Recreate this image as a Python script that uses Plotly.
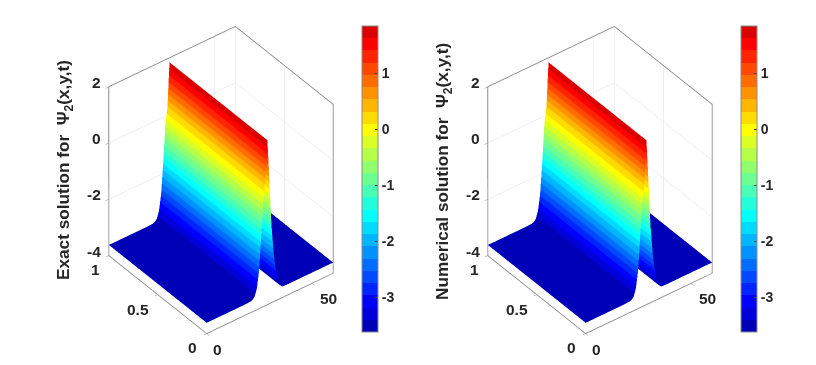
"""Exact vs numerical Psi_2 surfaces, two panels side by side."""

import plotly.graph_objects as go

X_GRID = [0, 10, 18, 20.8, 21.8, 22.8, 23.8, 24.8, 25.8, 26.8, 27.8, 28.3, 28.8,
          29.3, 29.8, 30.8, 31.8, 32.8, 33.8, 34.8, 35.8, 38, 45, 60]
Y_GRID = [0, 1]
EXACT_PROFILE = [-3.62, -3.62, -3.62, -3.61, -3.58, -3.5, -3.25, -2.7, -1.6, -0.3, 0.3, 1.1, 1.84,
                 1.1, 0.3, -1.3, -2.3, -2.9, -3.3, -3.53, -3.61, -3.62, -3.62, -3.62]
NUMERICAL_PROFILE = [-3.62, -3.62, -3.62, -3.61, -3.58, -3.5, -3.25, -2.7, -1.6, -0.3, 0.3, 1.1, 1.84,
                     1.1, 0.3, -1.3, -2.3, -2.9, -3.3, -3.53, -3.61, -3.62, -3.62, -3.62]
X_TICKS = [0, 50]
Y_TICKS = [0, 0.5, 1]
Z_TICKS = [-4, -2, 0, 2]
CBAR_TICKS = [-3, -2, -1, 0, 1]
TITLES = [
    "<b>Exact solution for  Ψ<sub>2</sub>(x,y,t)</b>",
    "<b>Numerical solution for  Ψ<sub>2</sub>(x,y,t)</b>",
]

W, H = 808, 357  # page body keeps its 8px margin
N_LEVELS = 25
FONT = "Liberation Sans"
TEXT = "#262626"
LINE = "#8c8c8c"


def px_x(p):
    return (p - 8) / W


def px_y(p):
    return 1 - (p - 8) / H


def jet_scale(n):
    """Stepped jet colour scale."""
    clip = lambda v: max(0.0, min(1.0, v))
    scale = []
    for i in range(n):
        t = 0.375 + (i - 9) / 28
        r = clip(1.5 - abs(4 * t - 3))
        g = clip(1.5 - abs(4 * t - 2))
        b = clip(1.5 - abs(4 * t - 1))
        color = f"rgb({r * 255:.0f},{g * 255:.0f},{b * 255:.0f})"
        scale.append([i / n, color])
        scale.append([(i + 1) / n, color])
    return scale


def axis(tickvals, rng):
    return dict(
        range=rng,
        tickvals=tickvals,
        title=dict(text=""),
        showticklabels=False,
        showbackground=False,
        showgrid=True,
        gridcolor="#e0e0e0",
        gridwidth=1,
        showline=True,
        linecolor=LINE,
        linewidth=2,
        mirror=True,
        ticks="outside",
        ticklen=4,
        tickcolor=LINE,
        tickwidth=1,
        zeroline=False,
        showspikes=False,
    )


def tick_notes():
    """Upright tick labels; plotly turns the native 3D ones along the axes."""
    font = dict(family=FONT, size=15.5, color=TEXT, weight="bold")
    notes = []
    for val, dx, dy in zip(X_TICKS, [11, 16], [-16, -16]):
        notes.append(dict(x=val, y=0, z=-4, text=str(val), xshift=dx, yshift=dy))
    for val, dx, dy in zip(Y_TICKS, [-14, -20, -13], [-14, -15, -14]):
        notes.append(dict(x=0, y=val, z=-4, text=str(val), xshift=dx, yshift=dy))
    for val, dx in zip(Z_TICKS, [-15, -15, -12, -12]):
        notes.append(dict(x=0, y=1, z=val, text=str(val), xshift=dx, yshift=4))
    for note in notes:
        note.update(showarrow=False, font=font)
    return notes


def scene(cx):
    half_w = 190 / W
    half_h = 160 / H
    cy = px_y(179.5)
    return dict(
        domain=dict(x=[px_x(cx) - half_w, px_x(cx) + half_w], y=[cy - half_h, cy + half_h]),
        xaxis=axis(X_TICKS, [0, 60]),
        yaxis=axis(Y_TICKS, [0, 1]),
        zaxis=axis(Z_TICKS, [-4, 2]),
        aspectmode="manual",
        aspectratio=dict(x=1, y=1, z=1.34),
        camera=dict(
            projection=dict(type="orthographic"),
            eye=dict(x=-1.105, y=-1.428, z=1.412),
            up=dict(x=0, y=0, z=1),
        ),
        annotations=tick_notes(),
        bgcolor="white",
    )


def surface(profile, scene_id, bar_x):
    return go.Surface(
        x=X_GRID,
        y=Y_GRID,
        z=[profile for _ in Y_GRID],
        scene=scene_id,
        colorscale=jet_scale(N_LEVELS),
        cmin=-3.62,
        cmax=1.84,
        lighting=dict(ambient=1, diffuse=0, specular=0, fresnel=0, roughness=1),
        colorbar=dict(
            x=px_x(bar_x),
            xanchor="left",
            xref="paper",
            y=px_y(26),
            yanchor="top",
            yref="paper",
            len=306,
            lenmode="pixels",
            thickness=16,
            thicknessmode="pixels",
            outlinecolor=LINE,
            outlinewidth=1,
            borderwidth=0,
            xpad=0,
            ypad=0,
            tickvals=CBAR_TICKS,
            ticktext=[str(v) for v in CBAR_TICKS],
            ticks="inside",
            ticklen=3,
            tickcolor="#444444",
            tickfont=dict(family=FONT, size=14, color=TEXT, weight="bold"),
        ),
    )


fig = go.Figure(
    data=[
        surface(EXACT_PROFILE, "scene", 362),
        surface(NUMERICAL_PROFILE, "scene2", 741),
    ]
)

fig.update_layout(
    width=W,
    height=H,
    margin=dict(l=0, r=0, t=0, b=0),
    paper_bgcolor="white",
    scene=scene(221),
    scene2=scene(600),
    annotations=[
        dict(text=TITLES[0], x=px_x(65), y=px_y(170), xref="paper", yref="paper", textangle=-90,
             xanchor="center", yanchor="middle", showarrow=False,
             font=dict(family=FONT, size=17.2, color=TEXT)),
        dict(text=TITLES[1], x=px_x(444), y=px_y(172), xref="paper", yref="paper", textangle=-90,
             xanchor="center", yanchor="middle", showarrow=False,
             font=dict(family=FONT, size=17.2, color=TEXT)),
    ],
)

fig.write_html("out.html")
